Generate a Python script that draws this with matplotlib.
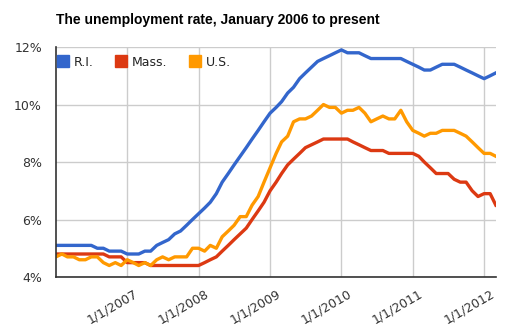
import pandas as pd
import matplotlib
matplotlib.use("Agg")
import matplotlib.pyplot as plt
import matplotlib.transforms as mtransforms

# Monthly unemployment rates, Jan 2006 - Mar 2012
meses = pd.date_range("2006-01-01", periods=75, freq="MS")

ri = [5.1, 5.1, 5.1, 5.1, 5.1, 5.1, 5.1, 5.0, 5.0, 4.9, 4.9, 4.9,
      4.8, 4.8, 4.8, 4.9, 4.9, 5.1, 5.2, 5.3, 5.5, 5.6, 5.8, 6.0,
      6.2, 6.4, 6.6, 6.9, 7.3, 7.6, 7.9, 8.2, 8.5, 8.8, 9.1, 9.4,
      9.7, 9.9, 10.1, 10.4, 10.6, 10.9, 11.1, 11.3, 11.5, 11.6, 11.7, 11.8,
      11.9, 11.8, 11.8, 11.8, 11.7, 11.6, 11.6, 11.6, 11.6, 11.6, 11.6, 11.5,
      11.4, 11.3, 11.2, 11.2, 11.3, 11.4, 11.4, 11.4, 11.3, 11.2, 11.1, 11.0,
      10.9, 11.0, 11.1]

mass = [4.8, 4.8, 4.8, 4.8, 4.8, 4.8, 4.8, 4.8, 4.8, 4.7, 4.7, 4.7,
        4.5, 4.5, 4.5, 4.5, 4.4, 4.4, 4.4, 4.4, 4.4, 4.4, 4.4, 4.4,
        4.4, 4.5, 4.6, 4.7, 4.9, 5.1, 5.3, 5.5, 5.7, 6.0, 6.3, 6.6,
        7.0, 7.3, 7.6, 7.9, 8.1, 8.3, 8.5, 8.6, 8.7, 8.8, 8.8, 8.8,
        8.8, 8.8, 8.7, 8.6, 8.5, 8.4, 8.4, 8.4, 8.3, 8.3, 8.3, 8.3,
        8.3, 8.2, 8.0, 7.8, 7.6, 7.6, 7.6, 7.4, 7.3, 7.3, 7.0, 6.8,
        6.9, 6.9, 6.5]

us = [4.7, 4.8, 4.7, 4.7, 4.6, 4.6, 4.7, 4.7, 4.5, 4.4, 4.5, 4.4,
      4.6, 4.5, 4.4, 4.5, 4.4, 4.6, 4.7, 4.6, 4.7, 4.7, 4.7, 5.0,
      5.0, 4.9, 5.1, 5.0, 5.4, 5.6, 5.8, 6.1, 6.1, 6.5, 6.8, 7.3,
      7.8, 8.3, 8.7, 8.9, 9.4, 9.5, 9.5, 9.6, 9.8, 10.0, 9.9, 9.9,
      9.7, 9.8, 9.8, 9.9, 9.7, 9.4, 9.5, 9.6, 9.5, 9.5, 9.8, 9.4,
      9.1, 9.0, 8.9, 9.0, 9.0, 9.1, 9.1, 9.1, 9.0, 8.9, 8.7, 8.5,
      8.3, 8.3, 8.2]

series = ["R.I.", "Mass.", "U.S."]
cores = ["#3366CC", "#DC3912", "#FF9900"]

anos_ticks = pd.to_datetime(["2007-01-01", "2008-01-01", "2009-01-01",
                             "2010-01-01", "2011-01-01", "2012-01-01"])
rotulos_x = ["1/1/2007", "1/1/2008", "1/1/2009", "1/1/2010", "1/1/2011", "1/1/2012"]
y_ticks = [4, 6, 8, 10, 12]
rotulos_y = ["4%", "6%", "8%", "10%", "12%"]

fig = plt.figure(figsize=(5.08, 3.36), dpi=100)
ax = fig.add_axes([0.110, 0.1756, 0.866, 0.6844])

for nome, valores, cor in zip(series, [ri, mass, us], cores):
    ax.plot(meses, valores, color=cor, linewidth=2.4, label=nome,
            solid_joinstyle="round", zorder=3)

ax.set_xlim(pd.Timestamp("2006-01-01"), pd.Timestamp("2012-03-01"))
ax.set_ylim(4, 12)

ax.set_yticks(y_ticks)
ax.set_yticklabels(rotulos_y)
ax.set_xticks(anos_ticks)
ax.set_xticklabels(rotulos_x, rotation=30, ha="right", rotation_mode="anchor")

ax.tick_params(axis="both", length=0, labelsize=9, labelcolor="#333333")
ax.tick_params(axis="y", pad=10)
ax.tick_params(axis="x", pad=7)

# desloca os rótulos do eixo x um pouco para a direita
desloc = mtransforms.ScaledTranslation(6 / 100, 0, fig.dpi_scale_trans)
for rot in ax.get_xticklabels():
    rot.set_transform(rot.get_transform() + desloc)

ax.grid(True, color="#cccccc", linewidth=1)
ax.set_axisbelow(True)
for lado in ["top", "right"]:
    ax.spines[lado].set_visible(False)
for lado in ["left", "bottom"]:
    ax.spines[lado].set_color("#333333")
    ax.spines[lado].set_linewidth(1.2)
    ax.spines[lado].set_zorder(4)

# Legenda com quadrados
handles = [plt.Line2D([], [], marker="s", linestyle="none", markersize=8.5,
                      color=c) for c in cores]
ax.legend(handles, series, loc="upper left", bbox_to_anchor=(-0.021, 1.012),
          ncol=3, frameon=False, fontsize=9, handlelength=0.8,
          handletextpad=0.5, columnspacing=1.75, labelcolor="#222222")

fig.text(0.110, 0.94, "The unemployment rate, January 2006 to present",
         fontsize=10, fontweight="bold", family="Liberation Sans", va="center")

fig.savefig("out.png", dpi=100, facecolor="white")
